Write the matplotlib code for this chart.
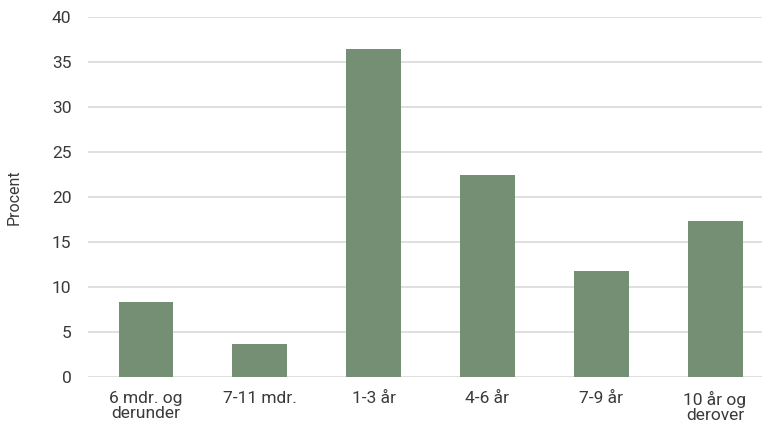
import matplotlib.pyplot as plt
import numpy as np

# Fordeling efter varighed
kategorier = ["6 mdr. og\nderunder", "7-11 mdr.", "1-3 år", "4-6 år", "7-9 år", "10 år og\nderover"]
procent = [8.3, 3.7, 36.5, 22.4, 11.8, 17.3]
yticks = [0, 5, 10, 15, 20, 25, 30, 35, 40]

plt.rcParams['font.family'] = ['Roboto', 'DejaVu Sans']
tekst = "#3a3a3a"

fig = plt.figure(figsize=(7.63, 4.26), dpi=100)
ax = fig.add_axes([0.1153, 0.115, 0.883, 0.845])

x = np.arange(len(kategorier))
ax.bar(x, procent, width=0.483, color="#748f74", zorder=3)

ax.set_xlim(-0.51, 5.41)
ax.set_ylim(0, 40)
ax.set_yticks(yticks)
ax.set_xticks(x)
ax.set_xticklabels(kategorier, fontsize=12.5, color=tekst, linespacing=1.0)
ax.tick_params(axis='y', labelsize=12.5, labelcolor=tekst, length=0, pad=12)
ax.tick_params(axis='x', length=0, pad=10)
ax.grid(axis='y', color="#d9d9d9", linewidth=1.2, zorder=0)
for s in ax.spines.values():
   s.set_visible(False)

ax.set_ylabel("Procent", fontsize=11.5, color=tekst, labelpad=22)

fig.savefig("out.png", dpi=100)
